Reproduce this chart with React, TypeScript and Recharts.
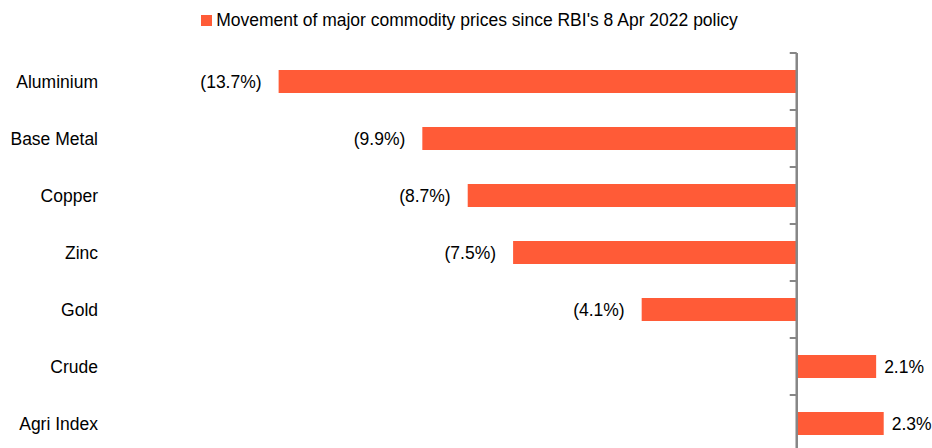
import { BarChart, Bar, XAxis, YAxis, Legend, ReferenceLine, LabelList } from 'recharts';

const CATEGORIES = ['Aluminium', 'Base Metal', 'Copper', 'Zinc', 'Gold', 'Crude', 'Agri Index'];
const CHANGE = [-13.7, -9.9, -8.7, -7.5, -4.1, 2.1, 2.3];
const SERIES_NAME = "Movement of major commodity prices since RBI's 8 Apr 2022 policy";

const BAR_COLOR = '#FF5B37';
const AXIS_COLOR = '#868686';
const FONT = '"Liberation Sans", Arial, sans-serif';

const data = CATEGORIES.map((name, i) => ({ name, value: CHANGE[i] }));

const fmt = (v: number) => (v < 0 ? `(${Math.abs(v).toFixed(1)}%)` : `${v.toFixed(1)}%`);

// value label: outside the bar end, left for negatives, right for positives
const BarLabel = (props: any) => {
  const { x, y, width, height, value } = props;
  const left = Math.min(x, x + width);
  const right = Math.max(x, x + width);
  const neg = value < 0;
  return (
    <text
      x={neg ? left - 17 : right + 8}
      y={y + height / 2}
      textAnchor={neg ? 'end' : 'start'}
      dominantBaseline="central"
      fill="#000"
      fontSize={17.5}
      fontFamily={FONT}
    >
      {fmt(value)}
    </text>
  );
};

// vertical axis sitting at zero, with tick marks on the category boundaries
const ZeroAxis = (p: any) => {
  const x = p.x1;
  const top = Math.min(p.y1, p.y2);
  const bottom = Math.max(p.y1, p.y2);
  const step = (bottom - top) / CATEGORIES.length;
  const marks = Array.from({ length: CATEGORIES.length + 1 }, (_, i) => top + i * step);
  return (
    <g>
      {marks.map((yy, i) => (
        <line key={i} x1={x - 7} x2={x} y1={yy} y2={yy} stroke={AXIS_COLOR} strokeWidth={2} />
      ))}
      <line x1={x} x2={x} y1={top} y2={bottom} stroke={AXIS_COLOR} strokeWidth={2.5} />
    </g>
  );
};

const LegendBox = () => (
  <div
    style={{
      width: 932,
      height: 53,
      display: 'flex',
      justifyContent: 'center',
      alignItems: 'flex-start',
      paddingLeft: 7,
      paddingTop: 10,
      boxSizing: 'border-box',
      fontFamily: FONT,
      fontSize: 17.5,
      lineHeight: '20px',
      color: '#000',
    }}
  >
    <span style={{ width: 11, height: 11, background: BAR_COLOR, marginTop: 5, marginRight: 4, flex: 'none' }} />
    <span style={{ whiteSpace: 'nowrap' }}>{SERIES_NAME}</span>
  </div>
);

export default function App() {
  return (
    <div style={{ position: 'absolute', left: 0, top: 0, width: 932, height: 448, overflow: 'hidden', background: '#fff' }}>
      <BarChart
        width={932}
        height={448}
        data={data}
        layout="vertical"
        margin={{ top: 0, right: -16, bottom: -4, left: 0 }}
      >
        <Legend verticalAlign="top" align="center" content={<LegendBox />} wrapperStyle={{ top: 0, left: 0 }} />
        <XAxis type="number" domain={[-18, 4]} hide />
        <YAxis
          type="category"
          dataKey="name"
          width={116}
          axisLine={false}
          tickLine={false}
          tickSize={0}
          tickMargin={18}
          tick={{ fill: '#000', fontSize: 17.5, fontFamily: FONT }}
          interval={0}
        />
        <Bar dataKey="value" name={SERIES_NAME} fill={BAR_COLOR} barSize={23} isAnimationActive={false}>
          <LabelList dataKey="value" content={<BarLabel />} />
        </Bar>
        <ReferenceLine x={0} shape={<ZeroAxis />} />
      </BarChart>
    </div>
  );
}
